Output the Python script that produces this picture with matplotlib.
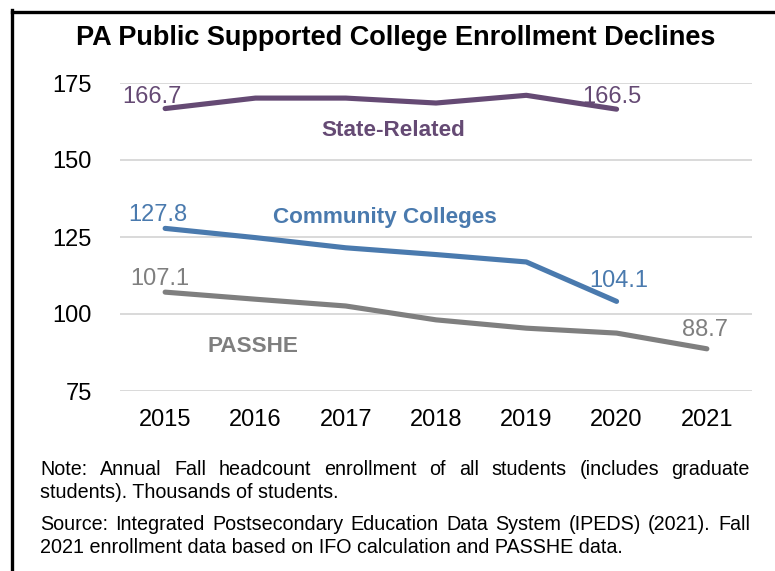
import matplotlib
matplotlib.use("Agg")
import matplotlib.pyplot as plt
from matplotlib.lines import Line2D

plt.rcParams['font.family'] = ['Liberation Sans', 'DejaVu Sans']

years = ["2015", "2016", "2017", "2018", "2019", "2020", "2021"]
state_related = [166.7, 170.1, 170.1, 168.5, 171.0, 166.5]
community = [127.8, 124.8, 121.5, 119.3, 116.9, 104.1]
passhe = [107.1, 104.8, 102.6, 98.1, 95.4, 93.8, 88.7]
y_ticks = [75, 100, 125, 150, 175]

title = "PA Public Supported College Enrollment Declines"
note_lines = ["Note: Annual Fall headcount enrollment of all students (includes graduate",
              "students). Thousands of students."]
source_lines = ["Source: Integrated Postsecondary Education Data System (IPEDS) (2021). Fall",
                "2021 enrollment data based on IFO calculation and PASSHE data."]

PURPLE = "#654A74"
BLUE = "#4A7AAE"
GRAY = "#7F7F7F"

W, H = 775, 571
fig = plt.figure(figsize=(W / 100, H / 100), dpi=100)
ax = fig.add_axes([120 / W, 1 - 391 / H, (752 - 120) / W, (391 - 83) / H])

# (values, colour, series name, name position, offsets of first/last value labels in px)
series = [
    (state_related, PURPLE, "State-Related", (2.53, 159.7), [(-13, 6), (-5, 6)]),
    (community, BLUE, "Community Colleges", (2.43, 131.2), [(-7, 7), (2, 14)]),
    (passhe, GRAY, "PASSHE", (0.97, 89.3), [(-5, 7), (-2, 13)]),
]

for vals, color, name, name_pos, offs in series:
    xs = list(range(len(vals)))
    ax.plot(xs, vals, color=color, lw=3.7, solid_capstyle="round",
            solid_joinstyle="round", zorder=3)
    for i, off in zip((0, len(vals) - 1), offs):
        ax.annotate(f"{vals[i]:.1f}", (xs[i], vals[i]), xytext=off,
                    textcoords="offset pixels", ha="center", va="baseline",
                    fontsize=17, color=color)
    ax.text(name_pos[0], name_pos[1], name, ha="center", va="center",
            fontsize=16.2, fontweight="bold", color=color)

ax.set_xlim(-0.5, len(years) - 0.5)
ax.set_ylim(75, 175)
ax.set_xticks(range(len(years)))
ax.set_xticklabels(years)
ax.set_yticks(y_ticks)
ax.tick_params(axis="both", length=0, labelsize=17, colors="black")
ax.tick_params(axis="y", pad=20.4)
ax.tick_params(axis="x", pad=13)
ax.grid(axis="y", color="#D9D9D9", lw=1.4, zorder=0)
for s in ax.spines.values():
    s.set_visible(False)

fig.text(396 / W, 1 - 38 / H, title, ha="center", va="center",
         fontsize=19.5, fontweight="bold")

# frame lines along the left and top edges
fig.add_artist(Line2D([11.5 / W, 11.5 / W], [0, 1 - 10 / H], color="black",
                      lw=2.4, transform=fig.transFigure, solid_capstyle="projecting"))
fig.add_artist(Line2D([11.5 / W, 1], [1 - 11.5 / H, 1 - 11.5 / H], color="black",
                      lw=2.4, transform=fig.transFigure))

# justified footnote paragraphs
renderer = fig.canvas.get_renderer()
x0, x1 = 40, 750
fs = 14.2


def put_line(text, y_px, justify):
    words = text.split(" ")
    if not justify:
        fig.text(x0 / W, 1 - y_px / H, text, ha="left", va="baseline", fontsize=fs)
        return
    arts = [fig.text(0, 1 - y_px / H, w, ha="left", va="baseline", fontsize=fs)
            for w in words]
    widths = [a.get_window_extent(renderer).width for a in arts]
    gap = (x1 - x0 - sum(widths)) / (len(words) - 1)
    x = x0
    for a, w in zip(arts, widths):
        a.set_x(x / W)
        x += w + gap


put_line(note_lines[0], 475, True)
put_line(note_lines[1], 498, False)
put_line(source_lines[0], 530, True)
put_line(source_lines[1], 553, False)

fig.savefig("out.png", dpi=100, facecolor="white")
